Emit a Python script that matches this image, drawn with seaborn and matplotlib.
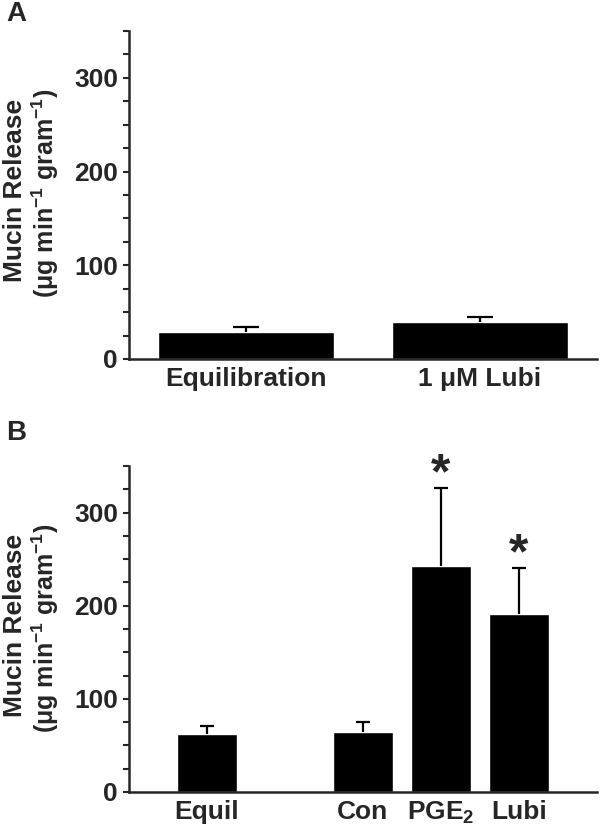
import matplotlib
matplotlib.use('Agg')
import matplotlib.pyplot as plt
from matplotlib.ticker import MultipleLocator
import seaborn as sns
import numpy as np

# panel A: equilibration vs lubiprostone
a_labels = ['Equilibration', '1 \u03bcM Lubi']
a_means = [29, 39.5]
a_err = [5, 5.5]

# panel B: blank slot between Equil and the treatment groups
b_labels = ['Equil', ' ', 'Con', 'PGE$_2$', 'Lubi']
b_means = [62, 64, 243, 191]
b_err = [9, 11, 83, 49]
b_groups = ['Equil', 'Con', 'PGE$_2$', 'Lubi']
b_star = ['PGE$_2$', 'Lubi']

ylab1 = 'Mucin Release'
ylab2 = '(\u03bcg min$^{-1}$ gram$^{-1}$)'

sns.set_style('ticks')
plt.rcParams['font.family'] = ['Liberation Sans', 'DejaVu Sans']
plt.rcParams['font.weight'] = 'bold'
plt.rcParams['mathtext.default'] = 'regular'

fig = plt.figure(figsize=(6, 8.31), dpi=100)
axA = fig.add_axes([0.215, 0.568, 0.78, 0.3947])
axB = fig.add_axes([0.215, 0.047, 0.78, 0.3923])

sns.barplot(x=a_labels, y=a_means, order=a_labels, color='black', width=0.755,
            saturation=1, ax=axA)
pos = [a_labels.index(l) for l in a_labels]
eb = axA.errorbar(pos, a_means, yerr=[np.zeros(len(a_err)), a_err], fmt='none',
                  ecolor='black', elinewidth=1.6, capsize=9.4, capthick=1.6)
eb[1][0].set_visible(False)  # hide lower caps
axA.set_xlim(-0.5, 1.5)

sns.barplot(x=b_groups, y=b_means, order=b_labels, color='black', width=0.77,
            saturation=1, ax=axB)
pos = [b_labels.index(l) for l in b_groups]
eb = axB.errorbar(pos, b_means, yerr=[np.zeros(len(b_err)), b_err], fmt='none',
                  ecolor='black', elinewidth=1.6, capsize=4.7, capthick=1.6)
eb[1][0].set_visible(False)
axB.set_xlim(-1, 5)

# significance stars above the caps
for g in b_star:
    i = b_groups.index(g)
    axB.annotate('*', xy=(b_labels.index(g), b_means[i] + b_err[i]),
                 xytext=(0, -7), textcoords='offset points', ha='center',
                 va='bottom', fontsize=36, fontweight='bold')

for ax in (axA, axB):
    ax.set_ylim(0, 350)
    ax.yaxis.set_major_locator(MultipleLocator(100))
    ax.yaxis.set_minor_locator(MultipleLocator(25))
    sns.despine(ax=ax)
    ax.spines['left'].set_linewidth(1.8)
    ax.spines['bottom'].set_linewidth(1.8)
    ax.tick_params(axis='y', which='both', direction='out', length=4, width=1.5,
                   labelsize=19, pad=4)
    ax.tick_params(axis='x', length=0, labelsize=19, pad=6)
    for lbl in ax.get_xticklabels() + ax.get_yticklabels():
        lbl.set_fontweight('bold')
    ax.set_xlabel('')
    ax.set_ylabel('')

# two-line y labels, placed per panel
for yc in (1 - 190 / 831, 1 - 625 / 831):
    fig.text(15 / 600, yc, ylab1, rotation=90, fontsize=19, fontweight='bold',
             ha='center', va='center')
    fig.text(45 / 600, yc - 0.004, ylab2, rotation=90, fontsize=18,
             fontweight='bold', ha='center', va='center')

fig.text(16 / 600, 1 - 14 / 831, 'A', fontsize=20, fontweight='bold',
         ha='center', va='center')
fig.text(16 / 600, 1 - 433 / 831, 'B', fontsize=20, fontweight='bold',
         ha='center', va='center')

fig.savefig('out.png', dpi=100)
